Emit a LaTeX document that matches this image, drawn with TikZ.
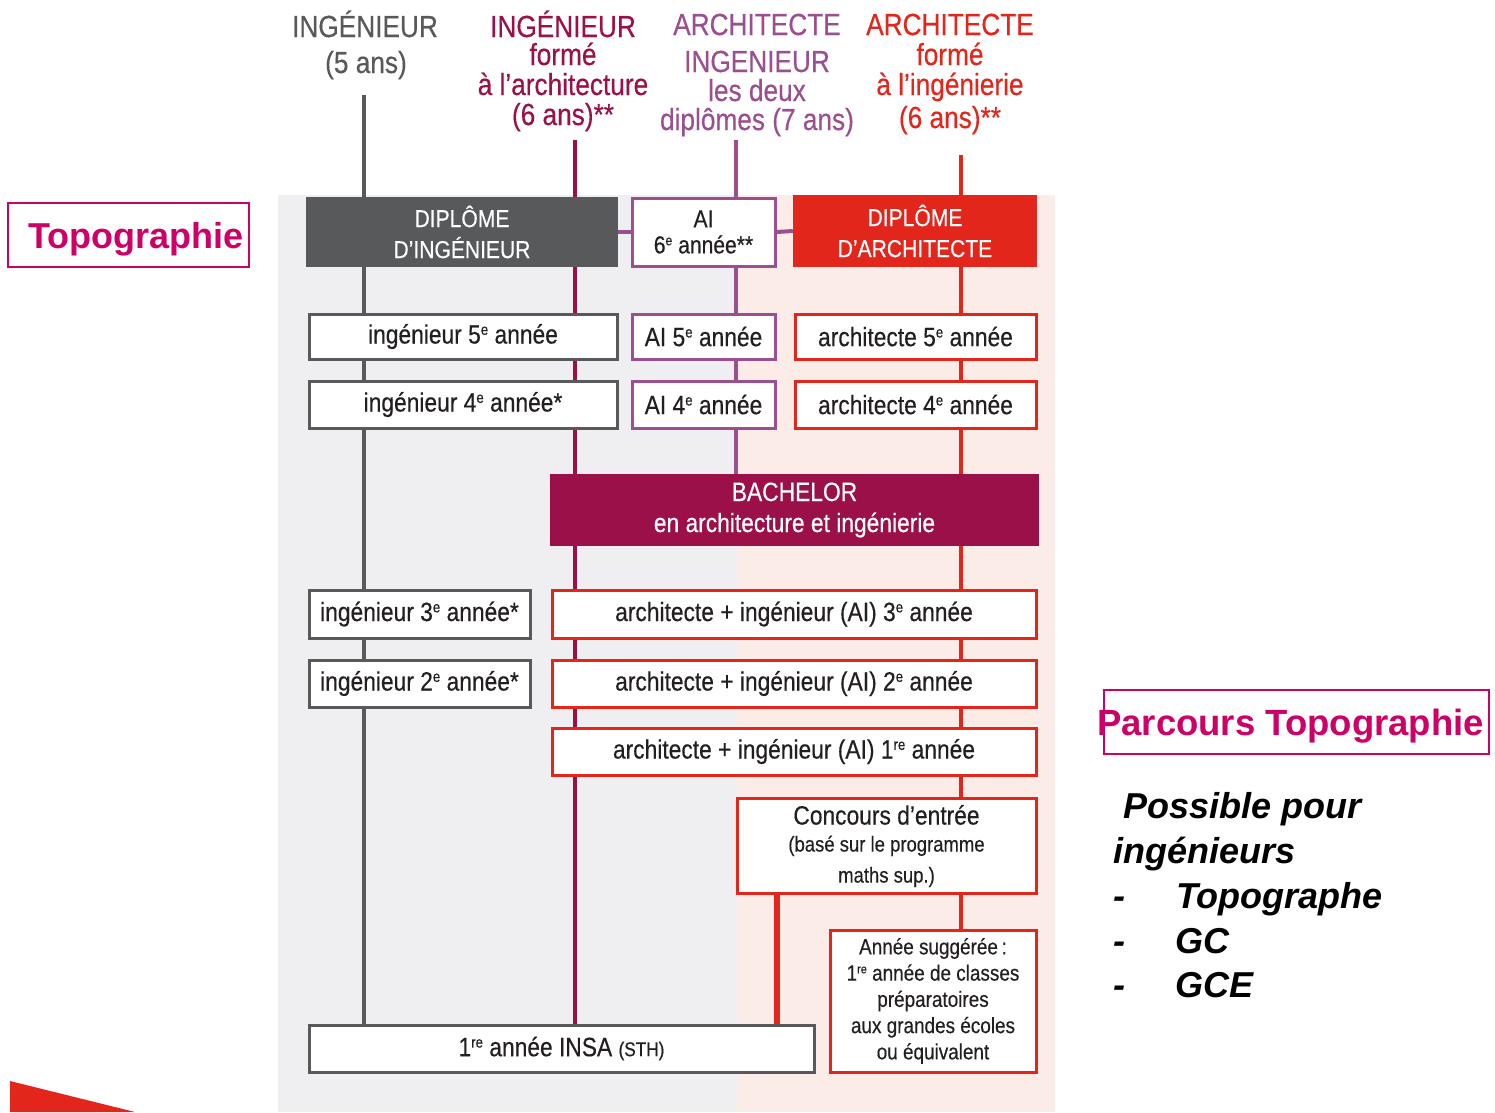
\documentclass[tikz,border=0pt]{standalone}
\usepackage{fontspec}
\usepackage{graphicx}
\setmainfont{Liberation Sans}
\newfontfamily\cond[FakeStretch=0.86,FakeBold=0.35]{Liberation Sans}
\usetikzlibrary{calc}
\definecolor{cgray}{HTML}{58595B}
\definecolor{cmaroon}{HTML}{9B1048}
\definecolor{cpurple}{HTML}{9B4F8E}
\definecolor{cred}{HTML}{E3261C}
\definecolor{cmag}{HTML}{CC0066}
\definecolor{bggray}{HTML}{EFEFF1}
\definecolor{bgpink}{HTML}{FCECE7}
\definecolor{ctext}{HTML}{231F20}
\pgfdeclarelayer{panel}
\pgfdeclarelayer{lines}
\pgfsetlayers{panel,lines,main}
\newcommand\fsz[2]{\fontsize{#1}{#2}\selectfont}
\newcommand\expo[1]{\raisebox{0.62ex}{\scalebox{0.58}{#1}}}
\tikzset{
  box/.style={draw, line width=3pt, fill=white, inner sep=0pt, text=ctext,
    font=\cond\fsz{26.5}{31}, align=center},
  gbox/.style={box, draw=cgray},
  pbox/.style={box, draw=cpurple},
  rbox/.style={box, draw=cred},
  dipbox/.style={inner sep=0pt, text=white, font=\cond\fsz{24.5}{31}, align=center},
  hdr/.style={anchor=base, inner sep=0pt, font=\cond\fsz{30.5}{30}},
  vline/.style={line width=4pt},
  side/.style={anchor=base west, inner sep=0pt, font=\bfseries\itshape\fsz{36}{36}},
  tagbox/.style={draw=cmag, line width=2pt},
}
\begin{document}
\begin{tikzpicture}[x=1pt,y=-1pt]
\useasboundingbox (0,0) rectangle (1495,1112);
% background panels
\begin{pgfonlayer}{panel}
\fill[white] (0,0) rectangle (1495,1112);
\fill[bggray] (278,195) rectangle (737,1112);
\fill[bgpink] (737,195) rectangle (1055,1112);
\end{pgfonlayer}

% headers
\begin{scope}[text=cgray]
\node[hdr] at (365,37) {INGÉNIEUR};
\node[hdr] at (366,73) {(5 ans)};
\end{scope}
\begin{scope}[text=cmaroon]
\node[hdr] at (563,37) {INGÉNIEUR};
\node[hdr] at (563,65) {formé};
\node[hdr] at (563,95) {à l’architecture};
\node[hdr] at (563,125) {(6 ans)**};
\end{scope}
\begin{scope}[text=cpurple]
\node[hdr] at (757,35) {ARCHITECTE};
\node[hdr] at (757,72) {INGENIEUR};
\node[hdr] at (757,101) {les deux};
\node[hdr] at (757,130) {diplômes (7 ans)};
\end{scope}
\begin{scope}[text=cred]
\node[hdr] at (950,35) {ARCHITECTE};
\node[hdr] at (950,65) {formé};
\node[hdr] at (950,95) {à l’ingénierie};
\node[hdr] at (950,128) {(6 ans)**};
\end{scope}

\coordinate (gtop) at (364,95);
\coordinate (mtop) at (575,140);
\coordinate (ptop) at (736,140);
\coordinate (rtop) at (961,155);

% diplomas
\node[dipbox, fill=cgray, minimum width=312pt, minimum height=70pt] (ding) at (462,232) {DIPLÔME\\D’INGÉNIEUR};
\node[pbox, font=\cond\fsz{24.5}{26}, minimum width=143pt, minimum height=68pt] (ai6) at (703.5,232) {AI\\6\expo{e} année**};
\node[dipbox, fill=cred, minimum width=244pt, minimum height=72pt] (darch) at (915,231) {DIPLÔME\\D’ARCHITECTE};

% 5th / 4th year
\node[gbox, minimum width=308pt, minimum height=45pt] (i5) at (463,336.5) {ingénieur 5\expo{e} année};
\node[pbox, minimum width=143pt, minimum height=45pt] (ai5) at (703.5,336.5) {AI 5\expo{e} année};
\node[rbox, minimum width=241pt, minimum height=45pt] (a5) at (915.5,336.5) {architecte 5\expo{e} année};
\node[gbox, minimum width=308pt, minimum height=47pt] (i4) at (463,404.5) {ingénieur 4\expo{e} année*};
\node[pbox, minimum width=143pt, minimum height=47pt] (ai4) at (703.5,404.5) {AI 4\expo{e} année};
\node[rbox, minimum width=241pt, minimum height=47pt] (a4) at (915.5,404.5) {architecte 4\expo{e} année};

% bachelor
\node[dipbox, fill=cmaroon, font=\cond\fsz{26.5}{31}, minimum width=489pt, minimum height=72pt] (bach) at (794.5,510) {BACHELOR\\en architecture et ingénierie};

% 3rd..1st year
\node[gbox, minimum width=221pt, minimum height=48pt] (i3) at (419.5,614) {ingénieur 3\expo{e} année*};
\node[rbox, minimum width=484pt, minimum height=48pt] (ai3) at (794,614) {architecte + ingénieur (AI) 3\expo{e} année};
\node[gbox, minimum width=221pt, minimum height=47pt] (i2) at (419.5,683.5) {ingénieur 2\expo{e} année*};
\node[rbox, minimum width=484pt, minimum height=47pt] (ai2) at (794,683.5) {architecte + ingénieur (AI) 2\expo{e} année};
\node[rbox, minimum width=484pt, minimum height=47pt] (ai1) at (794,751.5) {architecte + ingénieur (AI) 1\expo{re} année};

% entry
\node[rbox, minimum width=299pt, minimum height=95pt] (conc) at (886.5,846)
  {{\fsz{26.5}{28}Concours d’entrée}\\[-4pt]{\fsz{21.5}{27}(basé sur le programme}\\{\fsz{21.5}{27}maths sup.)}};
\node[rbox, font=\cond\fsz{22}{26.25}, minimum width=206pt, minimum height=142pt] (annee) at (933,1001)
  {Année suggérée\,:\\1\expo{re} année de classes\\préparatoires\\aux grandes écoles\\ou équivalent};
\node[gbox, minimum width=505pt, minimum height=47pt] (insa) at (561.5,1048.5) {1\expo{re} année INSA {\fsz{20}{20}(STH)}};

% connectors
\begin{pgfonlayer}{lines}
\draw[vline, cgray] (gtop) -- (gtop |- insa.north);
\draw[vline, cmaroon] (mtop) -- (mtop |- insa.north);
\draw[vline, cpurple] (ptop) -- (ptop |- bach.north);
\draw[vline, cred] (rtop) -- (rtop |- annee.north);
\draw[line width=6pt, cred] ([xshift=41pt]conc.south west) -- ([xshift=41pt]conc.south west |- insa.north);
\draw[vline, cpurple] (ding.east) -- (ai6.west);
\draw[vline, cpurple] (ai6.east) -- (darch.west);
\end{pgfonlayer}

% left tag
\draw[tagbox] (8,203) rectangle (249,267);
\node[anchor=base west, inner sep=0pt, text=cmag, font=\bfseries\fsz{36}{36}] (topo) at (28,248) {Topographie};

% right side
\draw[tagbox] (1104,690) rectangle (1489,754);
\node[anchor=base west, inner sep=0pt, text=cmag, font=\bfseries\fsz{36.5}{36}] (parc) at (1097,735) {Parcours Topographie};
\node[side] (s1) at (1123,818) {Possible pour};
\node[side] (s2) at (1113,863) {ingénieurs};
\node[side] (d1) at (1113,908) {-};
\node[side] (s3) at (1176,908) {Topographe};
\node[side] (d2) at (1113,953) {-};
\node[side] (s4) at (1175,953) {GC};
\node[side] (d3) at (1113,997) {-};
\node[side] (s5) at (1175,997) {GCE};

% corner shape
\fill[cred] (10,1081) -- (135,1112) -- (10,1112) -- cycle;
\end{tikzpicture}
\end{document}
